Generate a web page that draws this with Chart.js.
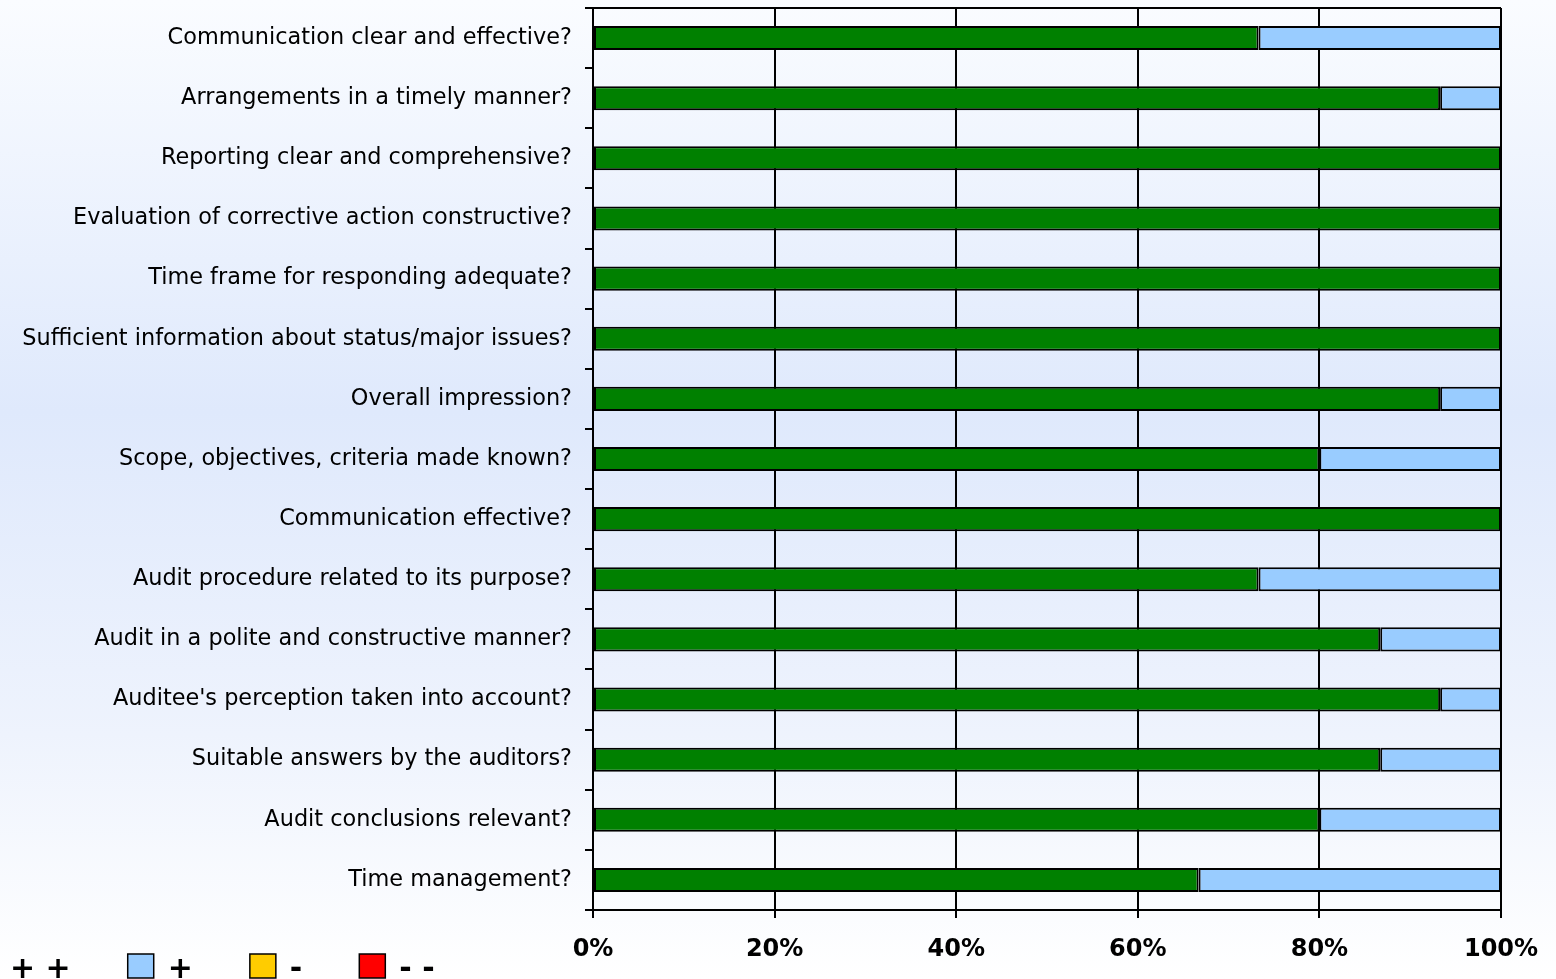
<!DOCTYPE html>
<html>
<head>
<meta charset="utf-8">
<script src="https://cdn.jsdelivr.net/npm/chart.js@4.4.1/dist/chart.umd.min.js"></script>
<style>
  html, body { margin: 0; padding: 0; }
  body {
    width: 1556px; height: 979px; overflow: hidden;
    background: linear-gradient(to bottom, #fafcff 0%, #dfe9fc 42%, #eef3fd 75%, #ffffff 100%);
  }
  #wrap { position: relative; width: 1556px; height: 979px; }
</style>
</head>
<body>
<div id="wrap"><canvas id="surveyChart" width="1556" height="979"></canvas></div>
<script>
  const questions = [
    'Communication clear and effective?',
    'Arrangements in a timely manner?',
    'Reporting clear and comprehensive?',
    'Evaluation of corrective action constructive?',
    'Time frame for responding adequate?',
    'Sufficient information about status/major issues?',
    'Overall impression?',
    'Scope, objectives, criteria made known?',
    'Communication effective?',
    'Audit procedure related to its purpose?',
    'Audit in a polite and constructive manner?',
    "Auditee's perception taken into account?",
    'Suitable answers by the auditors?',
    'Audit conclusions relevant?',
    'Time management?'
  ];
  const veryGood = [73.3, 93.3, 100, 100, 100, 100, 93.3, 80, 100, 73.3, 86.7, 93.3, 86.7, 80, 66.7];
  const good     = [26.7, 6.7, 0, 0, 0, 0, 6.7, 20, 0, 26.7, 13.3, 6.7, 13.3, 20, 33.3];
  const bad      = [0, 0, 0, 0, 0, 0, 0, 0, 0, 0, 0, 0, 0, 0, 0];
  const veryBad  = [0, 0, 0, 0, 0, 0, 0, 0, 0, 0, 0, 0, 0, 0, 0];
  const xTicks = [0, 20, 40, 60, 80, 100];

  // legend drawn by hand so it can sit beside the x axis labels
  const sideLegend = {
    id: 'sideLegend',
    afterDraw(chart) {
      const c = chart.ctx;
      const y = 970;
      let x = 10;
      c.save();
      c.font = 'bold 30px "DejaVu Sans"';
      c.textBaseline = 'middle';
      chart.data.datasets.forEach((ds, i) => {
        if (i > 0) {
          c.fillStyle = ds.backgroundColor;
          c.fillRect(x, y - 16, 26, 24);
          c.lineWidth = 1.5;
          c.strokeStyle = '#000';
          c.strokeRect(x, y - 16, 26, 24);
          x += 26 + 14;
        }
        c.fillStyle = '#000';
        c.fillText(ds.label, x, y);
        x += c.measureText(ds.label).width + 57;
      });
      c.restore();
    }
  };

  const ctx = document.getElementById('surveyChart').getContext('2d');
  new Chart(ctx, {
    type: 'bar',
    data: {
      labels: questions,
      datasets: [
        { label: '+ +', data: veryGood, backgroundColor: '#008000' },
        { label: '+', data: good, backgroundColor: '#99ccff' },
        { label: '-', data: bad, backgroundColor: '#ffcc00' },
        { label: '- -', data: veryBad, backgroundColor: '#ff0000' }
      ]
    },
    options: {
      indexAxis: 'y',
      responsive: false,
      animation: false,
      layout: { autoPadding: false, padding: { top: 8, right: 55, left: 0, bottom: 0 } },
      datasets: {
        bar: {
          borderColor: '#000',
          borderWidth: 2,
          borderSkipped: false,
          barPercentage: 0.4,
          categoryPercentage: 1
        }
      },
      plugins: {
        legend: { display: false },
        tooltip: { enabled: false }
      },
      scales: {
        x: {
          stacked: true,
          min: 0,
          max: 100,
          afterBuildTicks: s => { s.ticks = xTicks.map(v => ({ value: v })); },
          afterFit: s => {
            s.height = 69;
            s.paddingLeft = 0; s.paddingRight = 0;
          },
          grid: { color: '#000', lineWidth: 2, tickLength: 8, tickColor: '#000' },
          border: { color: '#000', width: 2 },
          ticks: {
            callback: v => v + '%',
            color: '#000',
            padding: 17,
            maxRotation: 0,
            font: { family: 'DejaVu Sans', size: 24, weight: 'bold' }
          }
        },
        y: {
          stacked: true,
          afterFit: s => {
            s.width = 593;
            s.paddingTop = 0; s.paddingBottom = 0;
          },
          grid: {
            offset: true,
            color: c => (c.index === 0 ? '#000' : 'rgba(0,0,0,0)'),
            tickColor: '#000',
            lineWidth: 2,
            tickLength: 8
          },
          border: { color: '#000', width: 2 },
          ticks: {
            color: '#000',
            padding: 13,
            autoSkip: false,
            font: { family: 'DejaVu Sans', size: 22.4 }
          }
        }
      }
    },
    plugins: [sideLegend]
  });
</script>
</body>
</html>
